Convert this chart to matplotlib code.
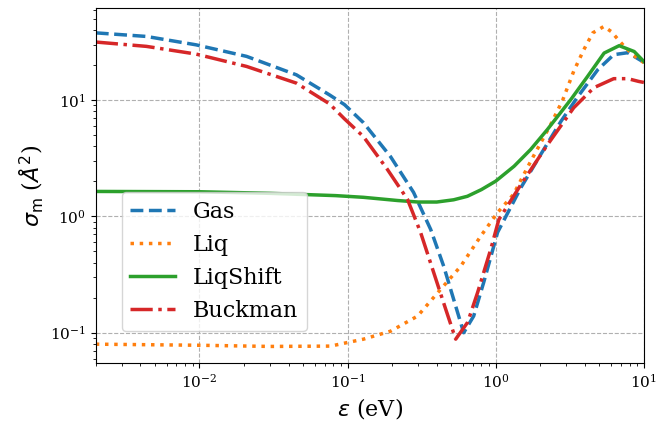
import matplotlib
matplotlib.use("Agg")
import matplotlib.pyplot as plt

plt.rcParams['font.family'] = 'DejaVu Serif'

# Energies (eV) and momentum-transfer cross sections (A^2)
gasE = [0.002, 0.00439, 0.0095, 0.0208, 0.0452, 0.0755, 0.0954, 0.128, 0.195, 0.279, 0.364, 0.446, 0.52, 0.608,
        0.71, 0.83, 1.03, 1.48, 2.01, 2.75, 3.58, 4.89, 6.26, 7.8, 9.8, 10.0]
gasS = [37.9, 35.3, 29.9, 23.8, 16.5, 11.1, 9.15, 6.4, 3.27, 1.61, 0.773, 0.372, 0.194, 0.1,
        0.139, 0.271, 0.73, 1.77, 3.4, 6.54, 10.7, 18.3, 24.6, 25.6, 21.5, 21.2]

liqE = [0.002, 0.01, 0.03, 0.0768, 0.128, 0.195, 0.297, 0.425, 0.58, 0.79, 1.03, 1.32, 1.72, 2.35, 2.84, 3.36,
        3.93, 4.52, 5.37, 6.0, 7.2, 8.4, 10.0]
liqS = [0.0797, 0.078, 0.0762, 0.0767, 0.088, 0.103, 0.139, 0.236, 0.372, 0.673, 1.08, 1.55, 2.97, 6.16, 10.1, 17.7,
        27.1, 37.9, 43.0, 39.0, 30.0, 24.6, 21.0]

shiftE = [0.002, 0.01, 0.03, 0.083, 0.128, 0.218, 0.3, 0.4, 0.52, 0.644, 0.8, 1.0, 1.33, 1.72, 2.23, 3.21,
          4.17, 5.39, 6.81, 8.6, 10.0]
shiftS = [1.64, 1.63, 1.58, 1.51, 1.46, 1.37, 1.33, 1.33, 1.39, 1.49, 1.70, 2.01, 2.70, 3.76, 5.58, 10.1,
          16.0, 25.4, 29.4, 26.2, 21.5]

buckE = [0.002, 0.00439, 0.0095, 0.0208, 0.0452, 0.0755, 0.0954, 0.128, 0.186, 0.254, 0.311, 0.381, 0.46, 0.537,
         0.647, 0.756, 0.925, 1.05, 1.48, 2.24, 3.36, 4.6, 6.26, 7.8, 9.2, 10.0]
buckS = [31.6, 29.0, 24.9, 19.5, 14.0, 9.3, 6.9, 4.86, 2.53, 1.4, 0.73, 0.331, 0.159, 0.088,
         0.123, 0.223, 0.52, 0.94, 1.88, 4.15, 8.6, 12.8, 15.3, 15.3, 14.5, 14.2]

fig = plt.figure(figsize=(6.7, 4.21), dpi=100)
ax = fig.add_axes([0.143, 0.138, 0.818, 0.843])

ax.plot(gasE, gasS, '--', color='tab:blue', lw=2.5, label='Gas')
ax.plot(liqE, liqS, ':', color='tab:orange', lw=2.5, label='Liq')
ax.plot(shiftE, shiftS, '-', color='tab:green', lw=2.5, label='LiqShift')
ax.plot(buckE, buckS, '-.', color='tab:red', lw=2.5, label='Buckman')

ax.set_xscale('log')
ax.set_yscale('log')
ax.set_xlim(0.002, 10)
ax.set_ylim(0.055, 62)
ax.grid(True, which='major', linestyle='--', color='#b0b0b0', lw=0.8)
ax.tick_params(labelsize=11)

ax.set_xlabel(r'$\varepsilon$ (eV)', fontsize=16)
ax.set_ylabel(r'$\sigma_{\rm m}$ ($\AA^2$)', fontsize=16)

ax.legend(loc='lower left', bbox_to_anchor=(0.047, 0.09), borderaxespad=0, fontsize=16)

fig.savefig('out.png', dpi=100)
